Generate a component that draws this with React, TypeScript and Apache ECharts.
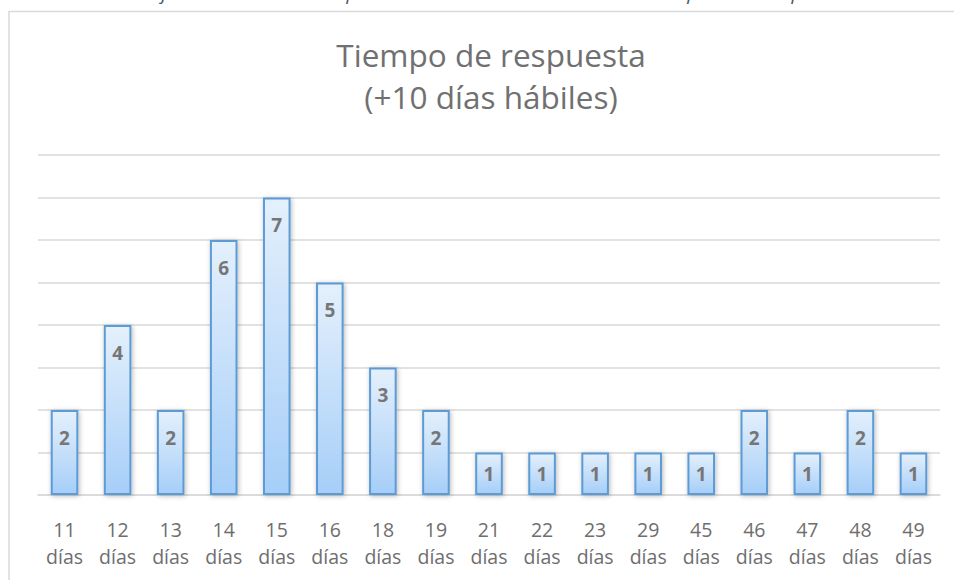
import React, { useEffect, useRef } from "react";
import * as echarts from "echarts";

const categories = ["11", "12", "13", "14", "15", "16", "18", "19", "21", "22", "23", "29", "45", "46", "47", "48", "49"];
const unitLabel = "días";
const counts = [2, 4, 2, 6, 7, 5, 3, 2, 1, 1, 1, 1, 1, 2, 1, 2, 1];
const titleLines = ["Tiempo de respuesta", "(+10 días hábiles)"];
const captionText = "Gráfica 3. Cantidad de requerimientos con más de 10 días hábiles para dar respuesta";

const FONT = "'Open Sans', 'Noto Sans', sans-serif";

export default function App() {
  const ref = useRef<HTMLDivElement>(null);
  useEffect(() => {
    if (!ref.current) return;
    const chart = echarts.init(ref.current, undefined, { renderer: "svg" });
    const barFill = new echarts.graphic.LinearGradient(0, 0, 0, 1, [
      { offset: 0, color: "#E4F0FC" },
      { offset: 1, color: "#A6CEF8" },
    ]);
    chart.setOption({
      animation: false,
      backgroundColor: "#ffffff",
      textStyle: { fontFamily: FONT },
      title: {
        text: titleLines.join("\n"),
        left: 486,
        top: 28,
        textAlign: "center",
        textStyle: { fontFamily: FONT, fontSize: 31.5, fontWeight: "normal", color: "#707070", lineHeight: 42 },
      },
      graphic: [
        {
          type: "rect",
          shape: { x: 9, y: 11.5, width: 960, height: 600 },
          style: { fill: "none", stroke: "#D9D9D9", lineWidth: 1.5 },
          silent: true,
          z: -1,
        },
        {
          type: "text",
          x: 489,
          y: -7,
          style: {
            text: captionText,
            fill: "#44546A",
            font: "italic 19px " + FONT,
            textAlign: "center",
            textVerticalAlign: "middle",
          },
        },
      ],
      grid: { left: 38, right: 14, top: 155, bottom: 85 },
      xAxis: {
        type: "category",
        data: categories,
        axisLine: { show: true, lineStyle: { color: "#D9D9D9", width: 1.5 } },
        axisTick: { show: false },
        axisLabel: {
          formatter: (v: string) => v + "\n" + unitLabel,
          color: "#6E6E6E",
          fontSize: 19.5,
          lineHeight: 27,
          margin: 21,
          interval: 0,
          fontFamily: FONT,
        },
      },
      yAxis: {
        type: "value",
        min: 0,
        max: 8,
        interval: 1,
        axisLabel: { show: false },
        axisLine: { show: false },
        axisTick: { show: false },
        splitLine: { lineStyle: { color: "#D9D9D9", width: 1.5 } },
      },
      series: [
        {
          type: "bar",
          barWidth: "52%",
          data: counts.map((v) => ({
            value: v,
            label: v === 1 ? { position: "inside" } : { position: "insideTop", distance: 18 },
          })),
          itemStyle: {
            color: barFill,
            borderColor: "#5B9BD5",
            borderWidth: 2,
            shadowColor: "rgba(0,0,0,0.28)",
            shadowBlur: 5,
            shadowOffsetX: 1,
            shadowOffsetY: 1,
          },
          label: {
            show: true,
            color: "#767676",
            fontSize: 19,
            fontWeight: "bold",
            fontFamily: FONT,
          },
        },
      ],
    });
    return () => chart.dispose();
  }, []);
  return (
    <div style={{ position: "fixed", left: 0, top: 0, width: 954, height: 580, background: "#fff" }}>
      <div ref={ref} style={{ width: 954, height: 580 }} />
    </div>
  );
}
